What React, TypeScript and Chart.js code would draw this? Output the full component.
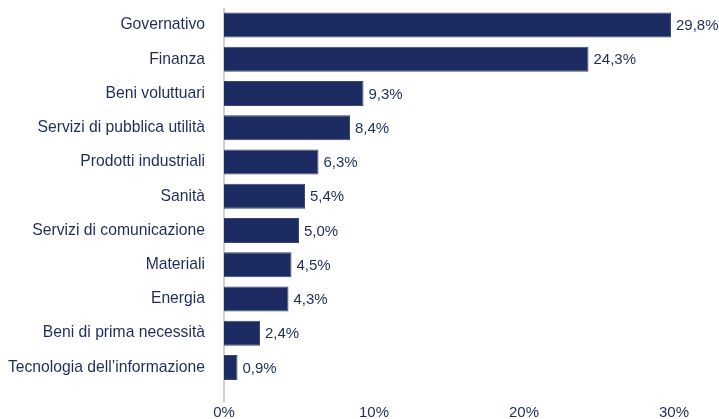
import React, { useEffect, useRef } from "react";
import { Chart, registerables } from "chart.js";

Chart.register(...registerables);

const categories = [
  "Governativo",
  "Finanza",
  "Beni voluttuari",
  "Servizi di pubblica utilità",
  "Prodotti industriali",
  "Sanità",
  "Servizi di comunicazione",
  "Materiali",
  "Energia",
  "Beni di prima necessità",
  "Tecnologia dell’informazione",
];
const values = [29.8, 24.3, 9.3, 8.4, 6.3, 5.4, 5.0, 4.5, 4.3, 2.4, 0.9];
const xTicks = [0, 10, 20, 30];

const NAVY = "#1c2b62";
const TEXT = "#1f2d5c";
const FONT = "Liberation Sans, Arial, sans-serif";

const fmt = (v: number) => v.toFixed(1).replace(".", ",") + "%";

const valueLabels = {
  id: "valueLabels",
  afterDatasetsDraw(chart: any) {
    const ctx = chart.ctx;
    const meta = chart.getDatasetMeta(0);
    ctx.save();
    ctx.fillStyle = TEXT;
    ctx.font = `15px ${FONT}`;
    ctx.textAlign = "left";
    ctx.textBaseline = "middle";
    meta.data.forEach((bar: any, i: number) => {
      ctx.fillText(fmt(values[i]), bar.x + 5, bar.y + 1);
    });
    ctx.restore();
  },
};

const axisLine = {
  id: "axisLine",
  beforeDatasetsDraw(chart: any) {
    const ctx = chart.ctx;
    const x = chart.scales.x.getPixelForValue(0);
    const { top, bottom } = chart.chartArea;
    ctx.save();
    ctx.strokeStyle = "#cfd0d3";
    ctx.lineWidth = 2;
    ctx.beginPath();
    ctx.moveTo(x, top);
    ctx.lineTo(x, bottom + 18);
    ctx.stroke();
    ctx.restore();
  },
};

export default function App() {
  const ref = useRef<HTMLCanvasElement>(null);
  useEffect(() => {
    if (!ref.current) return;
    const chart = new Chart(ref.current, {
      type: "bar",
      data: {
        labels: categories,
        datasets: [
          {
            data: values,
            backgroundColor: NAVY,
            borderColor: "#3a4675",
            borderWidth: 1,
            barPercentage: 0.73,
            categoryPercentage: 1,
          },
        ],
      },
      options: {
        indexAxis: "y",
        animation: false,
        responsive: false,
        maintainAspectRatio: false,
        layout: { padding: { top: 8, right: 45, bottom: 0, left: 0 } },
        plugins: { legend: { display: false }, tooltip: { enabled: false } },
        scales: {
          x: {
            min: 0,
            max: 30,
            afterBuildTicks: (scale: any) => {
              scale.ticks = xTicks.map((v) => ({ value: v }));
            },
            afterFit: (scale: any) => {
              scale.height = 34.5;
              scale.paddingTop = 0;
              scale.paddingBottom = 0;
            },
            grid: { display: false, drawTicks: true, tickLength: 18 },
            border: { display: false },
            ticks: {
              color: TEXT,
              font: { family: FONT, size: 15 },
              padding: 1,
              callback: (v: any) => v + "%",
            },
          },
          y: {
            afterFit: (scale: any) => {
              scale.width = 224;
              scale.paddingTop = 0;
              scale.paddingBottom = 0;
            },
            grid: { display: false, drawTicks: false },
            border: { display: false },
            ticks: {
              color: TEXT,
              font: { family: FONT, size: 15.7 },
              padding: 19,
            },
          },
        },
      },
      plugins: [valueLabels, axisLine],
    });
    return () => chart.destroy();
  }, []);
  return (
    <div style={{ position: "absolute", left: 0, top: 0, width: 719, height: 419 }}>
      <canvas ref={ref} width={719} height={419} style={{ width: 719, height: 419 }} />
    </div>
  );
}
